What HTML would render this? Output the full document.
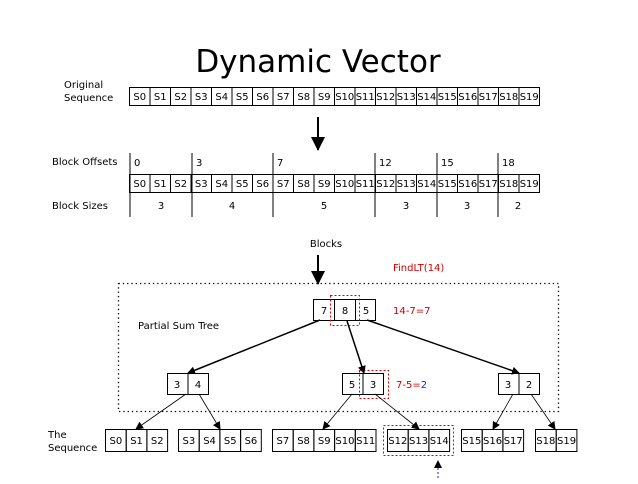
<!DOCTYPE html>
<html><head><style>
body{margin:0;background:#fff}
svg text{font-family:"DejaVu Sans","Liberation Sans",sans-serif}
</style></head><body>
<svg width="638" height="479" viewBox="0 0 638 479" xmlns="http://www.w3.org/2000/svg">
<defs><marker id="a" markerWidth="8" markerHeight="8" refX="7" refY="4" orient="auto" markerUnits="userSpaceOnUse"><path d="M0,0 L8,4 L0,8z" fill="#000"/></marker>
<marker id="b" markerWidth="14" markerHeight="14" refX="13" refY="7" orient="auto" markerUnits="userSpaceOnUse"><path d="M0,0 L14,7 L0,14z" fill="#000"/></marker></defs>
<text x="318" y="72" font-size="31" text-anchor="middle">Dynamic Vector</text>
<text x="64" y="88" font-size="10">Original</text><text x="64" y="101" font-size="10">Sequence</text>
<rect x="129.5" y="87.5" width="410" height="18" fill="none" stroke="#000"/>
<line x1="318" y1="117" x2="318" y2="150" stroke="#000" stroke-width="2" marker-end="url(#b)"/>
<text x="52" y="165" font-size="10">Block Offsets</text>
<text x="52" y="209" font-size="10">Block Sizes</text>
<rect x="129.5" y="174.5" width="410" height="18" fill="none" stroke="#000"/>
<g stroke="#000"><line x1="130" y1="153" x2="130" y2="217"/><line x1="192" y1="153" x2="192" y2="217"/><line x1="273" y1="153" x2="273" y2="217"/><line x1="375" y1="153" x2="375" y2="217"/><line x1="437" y1="153" x2="437" y2="217"/><line x1="498" y1="153" x2="498" y2="217"/></g>
<g font-size="10"><text x="134" y="166">0</text><text x="196" y="166">3</text><text x="277" y="166">7</text><text x="379" y="166">12</text><text x="441" y="166">15</text><text x="502" y="166">18</text></g>
<g font-size="10" text-anchor="middle"><text x="161" y="209">3</text><text x="232" y="209">4</text><text x="324" y="209">5</text><text x="406" y="209">3</text><text x="467" y="209">3</text><text x="518" y="209">2</text></g>
<text x="326" y="247" font-size="10" text-anchor="middle">Blocks</text>
<line x1="318" y1="255" x2="318" y2="284" stroke="#000" stroke-width="2" marker-end="url(#b)"/>
<text x="393" y="271" font-size="10" fill="#c00">FindLT(14)</text>
<rect x="118.5" y="283.5" width="440" height="128" fill="none" stroke="#000" stroke-width="1.3" stroke-dasharray="1.3,3"/>
<text x="138" y="329" font-size="10">Partial Sum Tree</text>
<g stroke="#000" fill="none"><rect x="313.5" y="299.5" width="62" height="21"/><line x1="334.5" y1="300" x2="334.5" y2="320"/><line x1="355.5" y1="300" x2="355.5" y2="320"/>
<rect x="167.5" y="373.5" width="41" height="21"/><line x1="188" y1="374" x2="188" y2="394"/>
<rect x="342.5" y="373.5" width="41" height="21"/><line x1="363" y1="374" x2="363" y2="394"/>
<rect x="498.5" y="373.5" width="41" height="21"/><line x1="519" y1="374" x2="519" y2="394"/></g>
<g font-size="10" text-anchor="middle"><text x="324" y="314">7</text><text x="345" y="314">8</text><text x="366" y="314">5</text>
<text x="177" y="388">3</text><text x="198" y="388">4</text><text x="352" y="388">5</text><text x="373" y="388">3</text><text x="508" y="388">3</text><text x="529" y="388">2</text></g>
<g fill="none" stroke="#d00" stroke-dasharray="2,2"><rect x="330.5" y="295.5" width="29" height="30"/><rect x="359.5" y="370.5" width="29" height="28"/><rect x="383.5" y="425.5" width="70" height="30"/></g>
<text x="393" y="314" font-size="10" fill="#c00">14-7=7</text>
<text x="396" y="388" font-size="10" fill="#c00">7-5=<tspan fill="#22c">2</tspan></text>
<g stroke="#000" stroke-width="1.5"><line x1="320" y1="320" x2="188" y2="373" marker-end="url(#a)"/><line x1="347" y1="321" x2="364" y2="373" marker-end="url(#a)"/><line x1="367" y1="320" x2="519" y2="373" marker-end="url(#a)"/></g>
<g stroke="#000" stroke-width="0.8"><line x1="186" y1="394" x2="136" y2="429" marker-end="url(#a)"/><line x1="199" y1="394" x2="220" y2="429" marker-end="url(#a)"/><line x1="352" y1="394" x2="323" y2="429" marker-end="url(#a)"/><line x1="375" y1="394" x2="419" y2="429" marker-end="url(#a)"/><line x1="513" y1="394" x2="493" y2="429" marker-end="url(#a)"/><line x1="531" y1="394" x2="555" y2="429" marker-end="url(#a)"/></g>
<text x="48" y="438" font-size="10">The</text><text x="48" y="451" font-size="10">Sequence</text>
<line x1="438" y1="478" x2="438" y2="461" stroke="#22c" stroke-dasharray="2,2" marker-end="url(#a)"/>
</svg>
<script>
var ns="http://www.w3.org/2000/svg",svg=document.querySelector('svg');
function cell(x,y,w,h,t){var r=document.createElementNS(ns,'rect');r.setAttribute('x',x+.5);r.setAttribute('y',y+.5);r.setAttribute('width',w);r.setAttribute('height',h);r.setAttribute('fill','none');r.setAttribute('stroke','#000');svg.appendChild(r);
var tx=document.createElementNS(ns,'text');tx.setAttribute('x',x+w/2+.5);tx.setAttribute('y',y+h/2+4);tx.setAttribute('font-size','10');tx.setAttribute('text-anchor','middle');tx.textContent=t;svg.appendChild(tx);}
for(var i=0;i<20;i++){cell(129+i*20.5,87,20.5,18,'S'+i);cell(129+i*20.5,174,20.5,18,'S'+i);}
var g=[[105,0,3],[178,3,4],[272,7,5],[387,12,3],[461,15,3],[535,18,2]];
g.forEach(function(a){for(var j=0;j<a[2];j++)cell(a[0]+j*20.7,429,20.7,22,'S'+(a[1]+j));});
</script>
</body></html>
